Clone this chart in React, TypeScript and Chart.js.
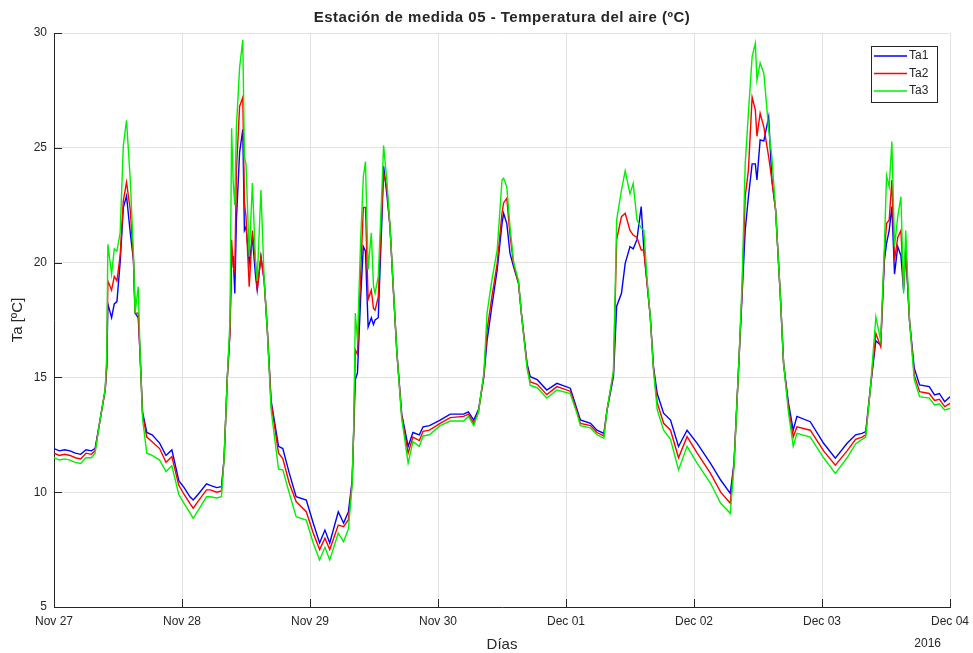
import React, { useEffect, useRef } from "react";
import { Chart, registerables } from "chart.js";
Chart.register(...registerables);

// Time in hours since Nov 27 00:00 (2016)
const HOURS = [
  0, 1, 2, 3, 4, 5, 6, 7, 7.7, 8.6,
  9.6, 9.9, 10.1, 10.8, 11.3, 11.8, 12.4, 13.0, 13.6, 14.3,
  14.9, 15.2, 15.8, 16.1, 16.6, 17.4, 18.4, 19.8, 21, 22.1,
  23.4, 24.4, 25.5, 26.1, 27, 28.6, 29.3, 30.5, 31.4, 31.9,
  32.5, 33.0, 33.3, 33.6, 33.9, 34.2, 34.8, 35.4, 35.7, 36.0,
  36.6, 37.2, 37.8, 38.1, 38.8, 39.4, 40.0, 40.7, 42.1, 42.9,
  44.1, 45.4, 47.3, 48.6, 49.8, 50.8, 51.7, 53.3, 54.3, 55.2,
  55.9, 56.2, 56.5, 56.9, 57.5, 58.0, 58.4, 58.9, 59.5, 59.9,
  60.2, 60.8, 61.5, 61.8, 62.4, 63.0, 63.6, 64.3, 65.2, 66.4,
  67.3, 68.5, 69.2, 70.4, 72.4, 74.3, 76.8, 77.7, 78.7, 79.6,
  80.6, 81.2, 82.1, 83.1, 84.0, 84.3, 84.9, 85.5, 86.2, 87.1,
  87.7, 88.7, 89.3, 90.6, 92.4, 94.3, 96.8, 98.1, 98.7, 100.6,
  101.8, 103.1, 103.7, 104.9, 105.5, 106.4, 107.1, 108.0, 108.6, 109.3,
  110.1, 110.6, 111.2, 111.8, 112.4, 113.1, 114.3, 115.6, 117.1, 118.7,
  120.6, 123.1, 125.0, 126.8, 127.5, 128.4, 129.0, 129.6, 130.2, 130.9,
  131.5, 131.8, 132.4, 133.1, 134.0, 134.6, 135.3, 136.2, 136.8, 137.7,
  138.6, 139.3, 141.8, 144.3, 146.5, 148.7, 150.3, 151.5, 152.2, 153.1,
  154.1, 155.0, 155.7, 156.1, 156.6, 157.1, 157.6, 158.2, 158.8, 159.3,
  159.7, 160.4, 161.3, 162.3, 164.1, 165.1, 166.0, 167.0, 168,
];

const TA1 = [
  11.9, 11.8, 11.85, 11.8, 11.7, 11.65, 11.85, 11.8, 11.9, 13.1,
  14.45, 15.5, 18.2, 17.6, 18.2, 18.3, 20.0, 22.4, 22.9, 21.3,
  20.1, 17.8, 17.6, 16.2, 13.5, 12.6, 12.5, 12.14, 11.6, 11.84,
  10.5, 10.2, 9.8, 9.66, 9.9, 10.36, 10.3, 10.2, 10.24, 11.5,
  15.0, 17.0, 20.3, 20.26, 18.66, 21.86, 24.8, 25.8, 21.4, 21.56,
  19.98, 21.1, 19.4, 18.8, 20.26, 19.24, 17.06, 14.0, 12.0, 11.9,
  10.84, 9.8, 9.66, 8.66, 7.79, 8.35, 7.79, 9.15, 8.66, 9.15,
  10.5, 12.7, 14.9, 15.2, 18.5, 20.7, 20.5, 17.2, 17.6, 17.3,
  17.5, 17.6, 22.0, 24.2, 23.0, 21.56, 18.95, 16.05, 13.4, 11.99,
  12.6, 12.5, 12.85, 12.9, 13.14, 13.4, 13.4, 13.5, 13.14, 13.6,
  15.03, 16.6, 18.1, 19.68, 21.7, 22.15, 21.7, 20.4, 19.8, 19.1,
  17.64, 15.6, 15.03, 14.9, 14.45, 14.74, 14.53, 13.58, 13.15, 13.0,
  12.7, 12.56, 13.58, 15.03, 18.1, 18.66, 19.97, 20.7, 20.6, 21.0,
  22.44, 20.55, 19.1, 17.64, 15.47, 14.3, 13.44, 13.14, 11.99, 12.7,
  12.13, 11.26, 10.53, 9.95, 11.27, 15.6, 18.5, 21.4, 22.87, 24.3,
  24.3, 23.6, 25.34, 25.3, 26.35, 23.6, 22.3, 18.5, 15.6, 13.9,
  12.7, 13.3, 13.07, 12.13, 11.48, 12.13, 12.5, 12.56, 12.64, 14.6,
  16.6, 16.4, 20.1, 20.84, 21.4, 22.44, 19.5, 20.7, 20.3, 18.8,
  20.5, 17.5, 15.4, 14.67, 14.6, 14.24, 14.3, 13.94, 14.16,
];

const TA2 = [
  11.7, 11.6, 11.65, 11.6, 11.5, 11.45, 11.7, 11.65, 11.8, 13.1,
  14.45, 15.6, 19.2, 18.8, 19.4, 19.2, 20.3, 22.7, 23.5, 22.3,
  20.1, 17.8, 17.8, 16.2, 13.4, 12.4, 12.2, 11.9, 11.3, 11.55,
  10.3, 9.9, 9.5, 9.3, 9.6, 10.1, 10.1, 10.0, 10.05, 11.5,
  15.0, 17.0, 21.0, 19.8, 19.6, 24.0, 26.8, 27.2, 22.6, 22.0,
  18.95, 21.4, 19.98, 18.8, 20.26, 19.24, 17.06, 13.9, 11.7, 11.47,
  10.4, 9.59, 9.15, 8.22, 7.5, 8.0, 7.5, 8.57, 8.5, 8.8,
  10.4, 12.7, 16.2, 16.0, 19.5, 22.4, 22.4, 18.4, 18.8, 18.0,
  17.93, 18.5, 22.5, 23.9, 23.3, 21.56, 18.95, 16.05, 13.3, 11.7,
  12.4, 12.25, 12.65, 12.7, 13.0, 13.25, 13.3, 13.4, 13.0, 13.5,
  15.1, 17.06, 18.5, 19.97, 22.15, 22.6, 22.8, 21.2, 19.9, 19.1,
  17.64, 15.5, 14.8, 14.7, 14.25, 14.6, 14.4, 13.5, 13.0, 12.9,
  12.6, 12.45, 13.6, 15.2, 21.0, 22.0, 22.15, 21.4, 21.2, 21.1,
  20.55, 20.55, 19.1, 17.64, 15.4, 13.9, 13.0, 12.7, 11.5, 12.42,
  11.7, 10.82, 10.0, 9.52, 11.2, 15.6, 18.7, 22.87, 24.03, 27.2,
  26.65, 25.5, 26.5, 25.9, 24.6, 23.6, 22.3, 18.5, 15.6, 13.7,
  12.4, 12.85, 12.7, 11.8, 11.18, 11.8, 12.3, 12.4, 12.5, 14.6,
  16.92, 16.34, 20.4, 21.7, 21.86, 23.6, 20.1, 21.1, 21.4, 18.95,
  20.7, 17.5, 15.1, 14.38, 14.3, 14.0, 14.05, 13.73, 13.87,
];

const TA3 = [
  11.5, 11.4, 11.45, 11.4, 11.3, 11.25, 11.5, 11.5, 11.7, 13.1,
  14.5, 16.0, 20.8, 19.5, 20.6, 20.5, 21.3, 25.1, 26.2, 23.6,
  20.4, 17.8, 18.95, 16.4, 13.2, 11.7, 11.6, 11.4, 10.9, 11.15,
  9.9, 9.5, 9.1, 8.86, 9.2, 9.8, 9.8, 9.75, 9.8, 11.5,
  15.0, 17.5, 25.85, 23.5, 22.5, 25.9, 28.5, 29.7, 24.6, 24.3,
  20.26, 23.47, 19.98, 19.2, 23.16, 19.3, 17.06, 13.6, 11.0, 10.97,
  9.97, 8.93, 8.79, 7.79, 7.05, 7.6, 7.05, 8.22, 7.85, 8.4,
  10.3, 12.9, 17.8, 16.6, 21.0, 23.74, 24.4, 19.7, 21.3, 19.0,
  18.66, 19.4, 23.3, 25.1, 23.6, 21.6, 19.0, 16.05, 13.2, 11.27,
  12.2, 12.0, 12.45, 12.5, 12.9, 13.1, 13.1, 13.3, 12.9, 13.5,
  15.2, 17.8, 19.24, 20.55, 23.6, 23.67, 23.3, 21.56, 20.0, 19.2,
  17.64, 15.4, 14.65, 14.55, 14.1, 14.45, 14.3, 13.4, 12.9, 12.8,
  12.5, 12.35, 13.6, 15.3, 21.86, 23.16, 24.0, 23.0, 23.45, 21.86,
  21.5, 21.4, 19.3, 17.64, 15.3, 13.6, 12.7, 12.3, 10.97, 12.0,
  11.26, 10.39, 9.52, 9.08, 11.1, 15.6, 19.0, 24.3, 26.5, 28.97,
  29.55, 27.95, 28.7, 28.24, 25.8, 24.6, 22.3, 18.5, 15.6, 13.5,
  12.0, 12.56, 12.4, 11.5, 10.82, 11.5, 12.1, 12.3, 12.4, 14.6,
  17.64, 16.6, 20.7, 23.8, 23.3, 25.27, 20.7, 22.0, 22.87, 18.66,
  21.4, 17.5, 14.9, 14.16, 14.1, 13.8, 13.85, 13.58, 13.65,
];

const DAY_LABELS = ["Nov 27", "Nov 28", "Nov 29", "Nov 30", "Dec 01", "Dec 02", "Dec 03", "Dec 04"];
const Y_TICKS = [5, 10, 15, 20, 25, 30];
const SERIES_NAMES = ["Ta1", "Ta2", "Ta3"];
const SERIES_COLORS = ["#0000ff", "#ff0000", "#00f000"];
const TITLE = "Estación de medida 05 - Temperatura del aire (ºC)";
const X_TITLE = "Días";
const Y_TITLE = "Ta [ºC]";
const YEAR_LABEL = "2016";

const FONT = "'Liberation Sans', Arial, Helvetica, sans-serif";
const TEXT = "#262626";
const GRID = "#e3e3e3";

export default function App() {
  const ref = useRef<HTMLCanvasElement>(null);
  useEffect(() => {
    const canvas = ref.current!;
    const overlay = {
      id: "overlay",
      afterDraw(chart: any) {
        const ctx = chart.ctx as CanvasRenderingContext2D;
        const a = chart.chartArea;
        const xs = chart.scales.x;
        const ys = chart.scales.y;
        ctx.save();
        // inward tick marks
        ctx.strokeStyle = TEXT;
        ctx.lineWidth = 1;
        ctx.beginPath();
        DAY_LABELS.forEach((_, i) => {
          const px = Math.round(xs.getPixelForValue(i * 24)) + 0.5;
          ctx.moveTo(px, a.bottom);
          ctx.lineTo(px, a.bottom - 8);
        });
        Y_TICKS.forEach((v) => {
          const py = Math.round(ys.getPixelForValue(v)) + 0.5;
          ctx.moveTo(a.left, py);
          ctx.lineTo(a.left + 8, py);
        });
        ctx.stroke();

        ctx.fillStyle = TEXT;
        // title
        ctx.font = `bold 15px ${FONT}`;
        (ctx as any).letterSpacing = "0.5px";
        ctx.textAlign = "center";
        ctx.textBaseline = "middle";
        ctx.fillText(TITLE, (a.left + a.right) / 2, 18);
        (ctx as any).letterSpacing = "0px";
        // x title
        ctx.font = `15px ${FONT}`;
        ctx.fillText(X_TITLE, (a.left + a.right) / 2, 645);
        // year
        ctx.font = `12px ${FONT}`;
        ctx.textAlign = "right";
        ctx.fillText(YEAR_LABEL, a.right - 9, 644);
        // y title
        ctx.save();
        ctx.translate(18, (a.top + a.bottom) / 2);
        ctx.rotate(-Math.PI / 2);
        ctx.textAlign = "center";
        ctx.font = `15px ${FONT}`;
        ctx.fillText(Y_TITLE, 0, 0);
        ctx.restore();

        // legend
        const lx = 871, ly = 46, lw = 66, lh = 56;
        ctx.fillStyle = "#ffffff";
        ctx.fillRect(lx, ly, lw, lh);
        ctx.strokeStyle = TEXT;
        ctx.lineWidth = 1;
        ctx.strokeRect(lx + 0.5, ly + 0.5, lw, lh);
        ctx.font = `12px ${FONT}`;
        ctx.textAlign = "left";
        ctx.textBaseline = "middle";
        SERIES_NAMES.forEach((name, i) => {
          const yy = ly + 10 + i * 17.5;
          ctx.strokeStyle = SERIES_COLORS[i];
          ctx.lineWidth = 1.5;
          ctx.beginPath();
          ctx.moveTo(lx + 3, yy);
          ctx.lineTo(lx + 36, yy);
          ctx.stroke();
          ctx.fillStyle = TEXT;
          ctx.fillText(name, lx + 38, yy);
        });
        ctx.restore();
      },
    };

    const series = [TA1, TA2, TA3];
    const chart = new Chart(canvas, {
      type: "line",
      data: {
        datasets: series.map((arr, i) => ({
          label: SERIES_NAMES[i],
          data: HOURS.map((h, j) => ({ x: h, y: arr[j] })),
          borderColor: SERIES_COLORS[i],
          backgroundColor: SERIES_COLORS[i],
          borderWidth: 1.4,
          pointRadius: 0,
          tension: 0,
          fill: false,
          order: 2 - i,
        })),
      },
      options: {
        responsive: false,
        animation: false,
        events: [],
        layout: { padding: { top: 33, right: 23, left: 0, bottom: 0 } },
        plugins: {
          legend: { display: false },
          title: { display: false },
          tooltip: { enabled: false },
        },
        scales: {
          x: {
            type: "linear",
            min: 0,
            max: 168,
            afterFit: (s: any) => {
              s.height = 46;
              s.paddingLeft = 0;
              s.paddingRight = 0;
            },
            afterBuildTicks: (s: any) => {
              s.ticks = DAY_LABELS.map((_, i) => ({ value: i * 24 }));
            },
            ticks: {
              callback: (v: any) => DAY_LABELS[Math.round(Number(v) / 24)],
              font: { family: FONT, size: 12 },
              color: TEXT,
              padding: 7,
              maxRotation: 0,
              autoSkip: false,
            },
            grid: { color: GRID, drawTicks: false },
            border: { color: TEXT },
          },
          y: {
            type: "linear",
            min: 5,
            max: 30,
            afterFit: (s: any) => {
              s.width = 54;
              s.paddingTop = 0;
              s.paddingBottom = 0;
            },
            afterBuildTicks: (s: any) => {
              s.ticks = Y_TICKS.map((v) => ({ value: v }));
            },
            ticks: {
              font: { family: FONT, size: 12 },
              color: TEXT,
              padding: 7,
            },
            grid: { color: GRID, drawTicks: false },
            border: { color: TEXT },
          },
        },
      },
      plugins: [overlay],
    } as any);
    return () => chart.destroy();
  }, []);
  return (
    <div style={{ position: "absolute", left: 0, top: 0, width: 973, height: 653, background: "#ffffff" }}>
      <canvas ref={ref} width={973} height={653} style={{ display: "block" }} />
    </div>
  );
}
